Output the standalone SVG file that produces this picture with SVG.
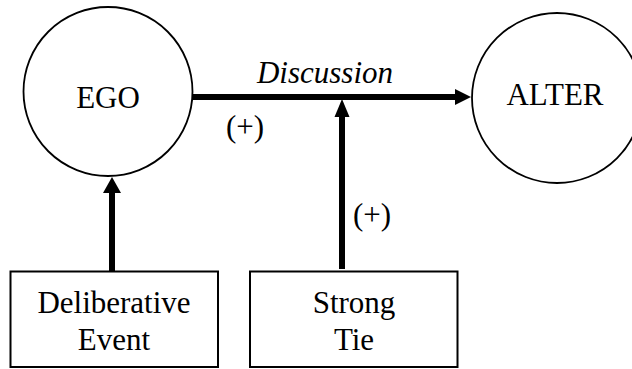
<svg xmlns="http://www.w3.org/2000/svg" width="632" height="369" viewBox="0 0 632 369">
<style>
  .node { fill: #fff; stroke: #000; stroke-width: 1.8; }
  .box { fill: #fff; stroke: #000; stroke-width: 2; }
  .lbl { font-family: "Liberation Serif", "Times New Roman", serif; font-size: 31px; fill: #000; text-anchor: middle; }
  .conn { stroke: #000; stroke-width: 6; fill: none; }
  .head { fill: #000; stroke: none; }
</style>
<rect width="632" height="369" fill="#fff"/>
<g id="ego">
  <circle class="node" cx="108" cy="91.5" r="84.5"/>
  <text class="lbl" x="108" y="108">EGO</text>
</g>
<g id="alter">
  <circle class="node" cx="557" cy="98" r="85"/>
  <text class="lbl" x="555" y="105">ALTER</text>
</g>
<g id="deliberative-event">
  <rect class="box" x="10.5" y="271.5" width="207.5" height="95.5"/>
  <text class="lbl" x="114" y="313">Deliberative</text>
  <text class="lbl" x="114" y="350">Event</text>
</g>
<g id="strong-tie">
  <rect class="box" x="250" y="271.5" width="207.5" height="95.5"/>
  <text class="lbl" x="354" y="313">Strong</text>
  <text class="lbl" x="354" y="350">Tie</text>
</g>
<g id="connectors">
  <line class="conn" x1="192" y1="97" x2="456" y2="97"/>
  <polygon class="head" points="471,97 455,89 455,105"/>
  <line class="conn" x1="342" y1="269" x2="342" y2="115"/>
  <polygon class="head" points="342,99 334.5,117 349.5,117"/>
  <line class="conn" x1="112" y1="271" x2="112" y2="191"/>
  <polygon class="head" points="112,177 103,193 121,193"/>
  <text class="lbl" x="325" y="83" font-style="italic">Discussion</text>
  <text class="lbl" x="245" y="137">(+)</text>
  <text class="lbl" x="372" y="225">(+)</text>
</g>
</svg>
